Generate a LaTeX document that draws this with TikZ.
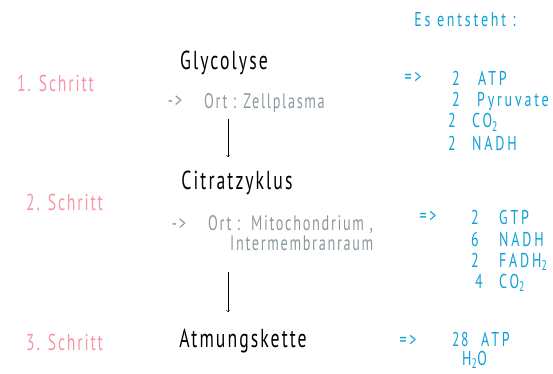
\documentclass[tikz,border=0pt]{standalone}
\usepackage{fontspec}
\setmainfont{PT Sans}
\newfontfamily\hand[FakeStretch=0.68,LetterSpace=8]{PT Sans}
\newfontfamily\handwide[FakeStretch=0.7,LetterSpace=14]{PT Sans}
\definecolor{stepcol}{RGB}{245,150,170}
\definecolor{outcol}{RGB}{15,160,215}
\definecolor{ortcol}{RGB}{140,152,158}
\tikzset{
  stage/.style={font=\hand\fontsize{26}{28}\selectfont, text=black, inner sep=0pt},
  schritt/.style={font=\hand\fontsize{23}{25}\selectfont, text=stepcol, inner sep=0pt},
  ort/.style={font=\hand\fontsize{21}{23}\selectfont, text=ortcol, inner sep=0pt},
  prod/.style={font=\handwide\fontsize{20}{22}\selectfont, text=outcol, inner sep=0pt,
    text height=9pt, text depth=1pt},
}
\begin{document}
\begin{tikzpicture}[x=1pt,y=-1pt]
\useasboundingbox (0,0) rectangle (553,374);

\node[prod] (es) at (465,23) {Es entsteht :};

% 1. Schritt
\node[schritt, anchor = west] (s1) at (17,83) {1. Schritt};
\node[stage] (glyc) at (224,63) {Glycolyse};
\node[ort] (o1p) at (175,102) {->};
\node[ort, anchor = west] (o1) at (204,103) {Ort : Zellplasma};
\node[prod] (p1) at (413,80) {=>};
\node[prod, anchor = west] (n1a) at (452,82) {2};
\node[prod, anchor = west] (n1b) at (452,103) {2};
\node[prod, anchor = west] (n1c) at (448,124) {2};
\node[prod, anchor = west] (n1d) at (448,146) {2};
\node[prod, anchor = west] (r1a) at (478,82) {ATP};
\node[prod, anchor = west] (r1b) at (477,103) {Pyruvate};
\node[prod, anchor = west] (r1c) at (472,124) {CO\textsubscript{2}};
\node[prod, anchor = west] (r1d) at (472,146) {NADH};

% 2. Schritt
\node[schritt, anchor = west] (s2) at (26,202) {2. Schritt};
\node[stage] (citr) at (237,183) {Citratzyklus};
\node[ort] (o2p) at (179,225) {->};
\node[ort, anchor = west] (o2) at (208,225) {Ort :~~Mitochondrium ,};
\node[ort, anchor = west] (o2b) at (230,243) {Intermembranraum};
\node[prod] (p2) at (428,218) {=>};
\node[prod, anchor = west] (n2a) at (471,220) {2};
\node[prod, anchor = west] (n2b) at (471,242) {6};
\node[prod, anchor = west] (n2c) at (471,263) {2};
\node[prod, anchor = west] (n2d) at (475,284) {4};
\node[prod, anchor = west] (r2a) at (499,220) {GTP};
\node[prod, anchor = west] (r2b) at (499,242) {NADH};
\node[prod, anchor = west] (r2c) at (499,263) {FADH\textsubscript{2}};
\node[prod, anchor = west] (r2d) at (499,284) {CO\textsubscript{2}};

% 3. Schritt
\node[schritt, anchor = west] (s3) at (26,342) {3. Schritt};
\node[stage] (atm) at (243,341) {Atmungskette};
\node[prod] (p3) at (408,342) {=>};
\node[prod, anchor = west, font=\hand\fontsize{20}{22}\selectfont] (n3a) at (452,342) {28};
\node[prod, anchor = west] (r3a) at (481,342) {ATP};
\node[prod, anchor = west] (n3b) at (462,361) {H\textsubscript{2}O};

\coordinate (a1) at (228,119);
\coordinate (b1) at (228,157);
\coordinate (a2) at (228,272);
\coordinate (b2) at (228,312);
\draw[->] (a1) -- (b1);
\draw[->] (a2) -- (b2);
\end{tikzpicture}
\end{document}
